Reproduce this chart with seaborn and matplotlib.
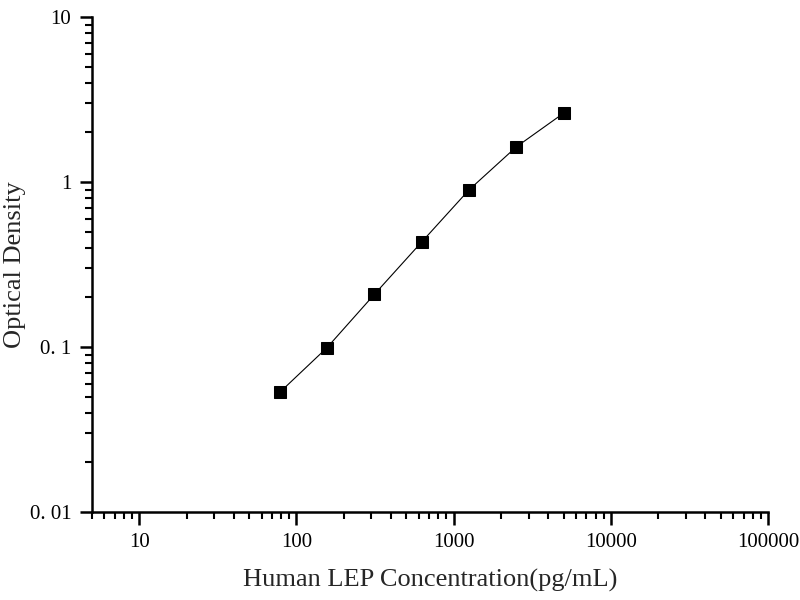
import matplotlib
matplotlib.use("Agg")
import matplotlib.pyplot as plt
import matplotlib.ticker as mticker
import seaborn as sns
import pandas as pd

concentration = [78.125, 156.25, 312.5, 625, 1250, 2500, 5000]
optical_density = [0.053, 0.099, 0.208, 0.432, 0.894, 1.63, 2.61]
x_ticks = [10, 100, 1000, 10000, 100000]
x_tick_labels = ["10", "100", "1000", "10000", "100000"]
y_ticks = [0.01, 0.1, 1, 10]
y_tick_labels = ["0. 01", "0. 1", "1", "10"]

sns.set_theme(style="ticks")
plt.rcParams['font.family'] = ['Liberation Serif', 'DejaVu Serif']

df = pd.DataFrame({"conc": concentration, "od": optical_density})

fig = plt.figure(figsize=(8, 6), dpi=100)
ax = fig.add_axes([0.115, 0.1467, 0.845, 0.825])
sns.lineplot(data=df, x="conc", y="od", ax=ax, color="black", linewidth=0.8,
             marker="s", markersize=8, markeredgecolor="black", markerfacecolor="black")

ax.set_xscale("log")
ax.set_yscale("log")
ax.set_xlim(5, 100000)
ax.set_ylim(0.01, 10)
ax.set_xticks(x_ticks)
ax.set_xticklabels(x_tick_labels)
ax.set_yticks(y_ticks)
ax.set_yticklabels(y_tick_labels)
ax.xaxis.set_minor_locator(mticker.LogLocator(base=10, subs=range(2, 10), numticks=20))
ax.yaxis.set_minor_locator(mticker.LogLocator(base=10, subs=range(2, 10), numticks=20))
ax.xaxis.set_minor_formatter(mticker.NullFormatter())
ax.yaxis.set_minor_formatter(mticker.NullFormatter())

for side in ["top", "right"]:
    ax.spines[side].set_visible(False)
for side in ["left", "bottom"]:
    ax.spines[side].set_linewidth(1.8)
    ax.spines[side].set_color("black")

ax.tick_params(axis="both", which="major", direction="out", length=9, width=1.8,
               labelsize=15, colors="black", pad=6)
ax.tick_params(axis="both", which="minor", direction="out", length=5, width=1.5, colors="black")

ax.set_xlabel("Human LEP Concentration(pg/mL)", fontsize=19, labelpad=12)
ax.set_ylabel("Optical Density", fontsize=19)
ax.yaxis.set_label_coords(-0.097, 0.5)

fig.savefig("out.png", dpi=100, facecolor="white")
